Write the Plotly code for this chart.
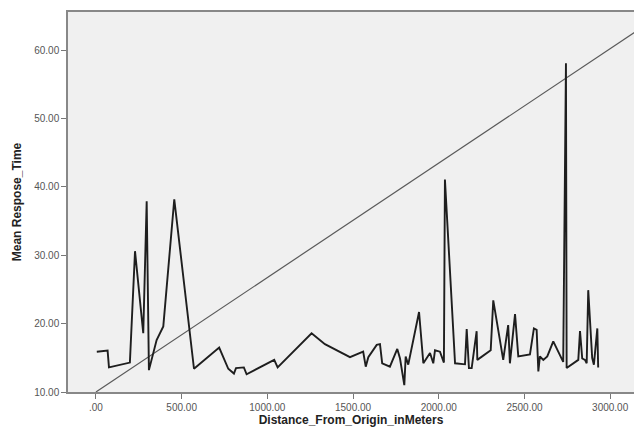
import plotly.graph_objects as go

distance = [5, 68, 76, 198, 228, 276, 296, 309, 354, 393, 457, 572, 719, 772, 805, 817,
            863, 879, 1040, 1060, 1258, 1336, 1482, 1559, 1574, 1589, 1638, 1657, 1670,
            1715, 1758, 1774, 1799, 1807, 1822, 1885, 1910, 1949, 1968, 1978, 2007, 2030,
            2036, 2095, 2153, 2163, 2176, 2192, 2221, 2225, 2303, 2318, 2376, 2405, 2415,
            2445, 2464, 2532, 2555, 2571, 2581, 2590, 2610, 2633, 2668, 2726, 2742, 2746,
            2814, 2824, 2837, 2853, 2863, 2872, 2895, 2905, 2925, 2930]
resp_time = [15.9, 16.05, 13.6, 14.3, 30.6, 18.6, 37.9, 13.2, 17.6, 19.6, 38.2, 13.4, 16.5,
             13.4, 12.7, 13.5, 13.6, 12.6, 14.7, 13.6, 18.6, 17.0, 15.1, 15.9, 13.7, 15.1,
             16.9, 17.0, 14.2, 13.7, 16.3, 14.9, 11.0, 15.2, 14.0, 21.7, 14.2, 15.7, 14.2,
             16.1, 15.9, 14.3, 41.1, 14.2, 14.05, 19.2, 13.5, 13.5, 18.9, 14.7, 16.1, 23.4,
             14.7, 19.8, 14.2, 21.4, 15.2, 15.5, 19.3, 19.1, 13.0, 15.2, 14.7, 15.2, 17.4,
             14.4, 58.1, 13.5, 14.7, 18.9, 14.9, 14.7, 14.2, 24.9, 15.0, 14.0, 19.3, 13.6]

ref_x = [0, 3150]
ref_y = [10, 62.75]

x_ticks = [0, 500, 1000, 1500, 2000, 2500, 3000]
x_labels = [".00", "500.00", "1000.00", "1500.00", "2000.00", "2500.00", "3000.00"]
y_ticks = [10, 20, 30, 40, 50, 60]
y_labels = ["10.00", "20.00", "30.00", "40.00", "50.00", "60.00"]

fig = go.Figure()
fig.add_trace(go.Scatter(x=ref_x, y=ref_y, mode="lines",
                         line=dict(color="#5a5a5a", width=1.2), hoverinfo="skip"))
fig.add_trace(go.Scatter(x=distance, y=resp_time, mode="lines",
                         line=dict(color="#1e1e1e", width=1.9)))

fig.update_layout(
    width=636, height=432,
    margin=dict(l=68, r=2, t=12, b=40),
    paper_bgcolor="white",
    plot_bgcolor="#f0f0f0",
    showlegend=False,
    font=dict(family="Liberation Sans, Arial, sans-serif", color="#444"),
    xaxis=dict(
        range=[-163, 3139],
        tickvals=x_ticks, ticktext=x_labels,
        ticks="outside", ticklen=5, tickcolor="#777",
        showgrid=False, zeroline=False,
        showline=True, linecolor="#888", linewidth=1.5, mirror=True,
        tickfont=dict(size=10, color="#555"),
        title=dict(text="<b>Distance_From_Origin_inMeters</b>",
                   font=dict(size=12, color="#222"), standoff=4),
    ),
    yaxis=dict(
        range=[10, 65.6],
        tickvals=y_ticks, ticktext=y_labels,
        ticks="outside", ticklen=5, tickcolor="#777",
        showgrid=False, zeroline=False,
        showline=True, linecolor="#888", linewidth=1.5,
        tickfont=dict(size=10, color="#555"),
        title=dict(text="<b>Mean Respose_Time</b>",
                   font=dict(size=12, color="#222"), standoff=10),
    ),
)

fig.write_html("out.html", config={"displayModeBar": False},
               post_script="document.body.style.margin='0';")
